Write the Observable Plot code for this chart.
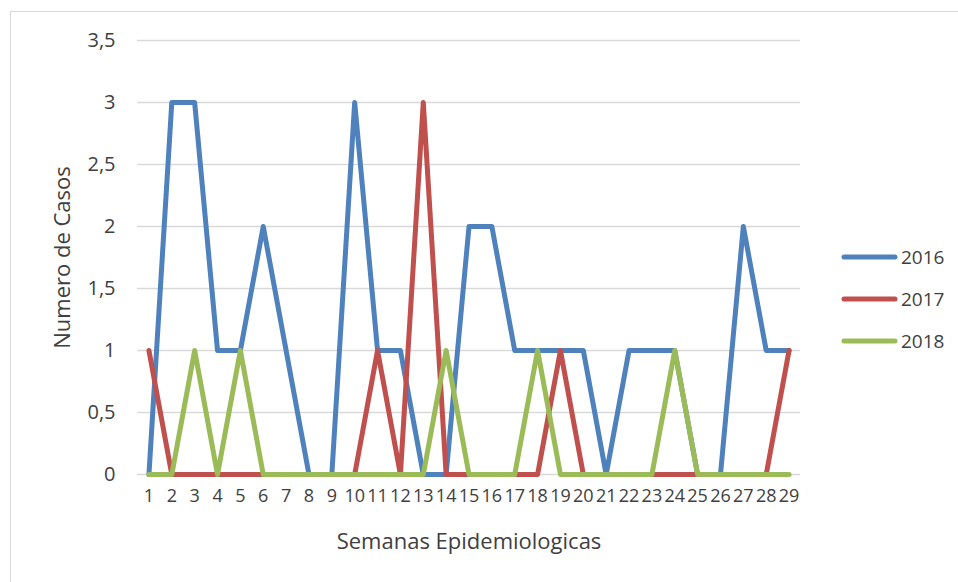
<!DOCTYPE html>
<html>
<head>
<meta charset="utf-8">
<script src="https://cdn.jsdelivr.net/npm/d3@7"></script>
<script src="https://cdn.jsdelivr.net/npm/@observablehq/plot@0.6"></script>
<style>
  html, body { margin: 0; padding: 0; background: #fff; }
  #wrap { position: relative; width: 958px; height: 582px; overflow: hidden; font-family: "Open Sans", sans-serif; }
  #frame { position: absolute; left: 10px; top: 11px; width: 1000px; height: 700px; border-left: 1.5px solid #d9d9d9; border-top: 1.5px solid #d9d9d9; }
  #chart { position: absolute; left: 0; top: 0; }
  #legend { position: absolute; left: 841px; top: 236px; }
  .item { display: flex; align-items: center; height: 42px; font-size: 19px; color: #404040; }
  .item svg { margin-right: 3px; }
</style>
</head>
<body>
<div id="wrap">
  <div id="frame"></div>
  <div id="chart"></div>
  <div id="legend"></div>
</div>
<script>
const weeks = d3.range(1, 30);
const years = ["2016", "2017", "2018"];
const colors = ["#4f81bd", "#c0504d", "#9bbb59"];
const cases2016 = [0,3,3,1,1,2,1,0,0,3,1,1,0,0,2,2,1,1,1,1,0,1,1,1,0,0,2,1,1];
const cases2017 = [1,0,0,0,0,0,0,0,0,0,1,0,3,0,0,0,0,0,1,0,0,0,0,0,0,0,0,0,1];
const cases2018 = [0,0,1,0,1,0,0,0,0,0,0,0,0,1,0,0,0,1,0,0,0,0,0,1,0,0,0,0,0];
const yTicks = [0, 0.5, 1, 1.5, 2, 2.5, 3, 3.5];
const xTitle = "Semanas Epidemiologicas";
const yTitle = "Numero de Casos";

const seriesValues = [cases2016, cases2017, cases2018];
const data = [];
years.forEach((y, i) => weeks.forEach((w, j) => data.push({year: y, week: w, value: seriesValues[i][j]})));

const fmt = v => String(v).replace(".", ",");

const chart = Plot.plot({
  width: 958,
  height: 582,
  marginLeft: 137,
  marginRight: 158,
  marginTop: 40,
  marginBottom: 108,
  style: {fontFamily: "'Open Sans', sans-serif", color: "#404040", background: "transparent"},
  x: {domain: [0.5, 29.5]},
  y: {domain: [0, 3.5]},
  color: {domain: years, range: colors},
  marks: [
    Plot.ruleY(yTicks, {stroke: "#d9d9d9", strokeWidth: 1.5}),
    Plot.axisY({ticks: yTicks, tickSize: 0, tickPadding: 22, tickFormat: fmt, label: null, fontSize: 20, fill: "#404040"}),
    Plot.axisX({ticks: weeks, tickSize: 0, tickPadding: 15, tickFormat: d => String(d), label: null, fontSize: 18, fill: "#404040"}),
    Plot.line(data, {x: "week", y: "value", z: "year", stroke: "year", strokeWidth: 5, strokeLinejoin: "round", strokeLinecap: "round"}),
    Plot.text([yTitle], {frameAnchor: "left", dx: -75, rotate: -90, textAnchor: "middle", lineAnchor: "middle", fontSize: 22, fill: "#404040"}),
    Plot.text([xTitle], {frameAnchor: "bottom", dy: 67, textAnchor: "middle", lineAnchor: "middle", fontSize: 22, fill: "#404040"})
  ]
});
document.getElementById("chart").appendChild(chart);

const legend = document.getElementById("legend");
years.forEach((y, i) => {
  const div = document.createElement("div");
  div.className = "item";
  div.innerHTML = `<svg width="57" height="8"><line x1="3" y1="4" x2="54" y2="4" stroke="${colors[i]}" stroke-width="5" stroke-linecap="round"/></svg><span>${y}</span>`;
  legend.appendChild(div);
});
</script>
</body>
</html>
